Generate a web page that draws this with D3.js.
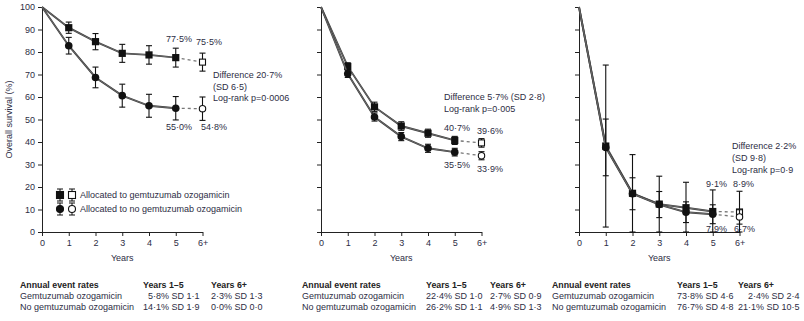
<!DOCTYPE html>
<html>
<head>
<meta charset="utf-8">
<script src="https://cdn.jsdelivr.net/npm/d3@7"></script>
<style>
  body { margin: 0; background: #fff; }
  svg { font-family: "Liberation Sans", Arial, sans-serif; }
  .axis path, .axis line { stroke: #222; stroke-width: 1; }
  .axis text { fill: #2d2d44; font-size: 9px; font-family: "Liberation Sans", Arial, sans-serif; }
</style>
</head>
<body>
<svg id="chart" width="804" height="321"></svg>
<script>
// categories
var years = ["0", "1", "2", "3", "4", "5", "6+"];
var yTicks = [0, 10, 20, 30, 40, 50, 60, 70, 80, 90, 100];

// panel 1
var p1Go = [100, 90.8, 84.6, 79.4, 78.7, 77.5, 75.5];
var p1GoErr = [0, 2.5, 3.6, 4.0, 4.1, 4.2, 4.0];
var p1No = [100, 82.8, 68.7, 60.6, 56.1, 55.0, 54.8];
var p1NoErr = [0, 3.7, 4.6, 5.1, 5.1, 5.2, 5.2];

// panel 2
var p2Go = [100, 73.6, 55.6, 47.1, 43.9, 40.7, 39.6];
var p2GoErr = [0, 1.6, 2.1, 1.9, 1.8, 1.8, 1.9];
var p2No = [100, 70.3, 51.1, 42.4, 37.2, 35.5, 33.9];
var p2NoErr = [0, 1.6, 1.8, 1.8, 1.8, 1.7, 1.8];

// panel 3
var p3Go = [100, 38.2, 17.2, 12.4, 10.8, 9.1, 8.9];
var p3GoErr = [0, 36, 17.2, 12.4, 11.3, 9.6, 9.2];
var p3No = [100, 37.6, 17.0, 12.2, 8.8, 7.9, 6.7];
var p3NoErr = [0, 12.6, 7.1, 5.8, 4.6, 4.2, 3.2];

// annotations
var p1Notes = ["Difference 20·7%", "(SD 6·5)", "Log-rank p=0·0006"];
var p2Notes = ["Difference 5·7% (SD 2·8)", "Log-rank p=0·005"];
var p3Notes = ["Difference 2·2%", "(SD 9·8)", "Log-rank p=0·9"];
var legendLabels = ["Allocated to gemtuzumab ozogamicin", "Allocated to no gemtuzumab ozogamicin"];

// event rate tables
var tableHeader = ["Annual event rates", "Years 1–5", "Years 6+"];
var rowLabels = ["Gemtuzumab ozogamicin", "No gemtuzumab ozogamicin"];
var p1Rates = [["5·8% SD 1·1", "2·3% SD 1·3"], ["14·1% SD 1·9", "0·0% SD 0·0"]];
var p2Rates = [["22·4% SD 1·0", "2·7% SD 0·9"], ["26·2% SD 1·1", "4·9% SD 1·3"]];
var p3Rates = [["73·8% SD 4·6", "2·4% SD 2·4"], ["76·7% SD 4·8", "21·1% SD 10·5"]];

var svg = d3.select("#chart");
var textCol = "#2d2d44";
var plotTop = 7, plotBottom = 232, plotW = 160.5;

var y = d3.scaleLinear().domain([0, 100]).range([plotBottom, plotTop]);

var panels = [
  {x0: 42, go: p1Go, goErr: p1GoErr, no: p1No, noErr: p1NoErr, labels: true,
   notes: p1Notes, noteX: 213, noteY: 78, noteDy: 11.5,
   pct: [[166, 42, "77·5%"], [196, 45, "75·5%"], [166, 130, "55·0%"], [201, 130, "54·8%"]],
   rates: p1Rates, tx: [20, 143, 211]},
  {x0: 321, go: p2Go, goErr: p2GoErr, no: p2No, noErr: p2NoErr, labels: false,
   notes: p2Notes, noteX: 444, noteY: 100, noteDy: 12,
   pct: [[444, 131, "40·7%"], [477, 134, "39·6%"], [444, 168, "35·5%"], [477, 172, "33·9%"]],
   rates: p2Rates, tx: [302, 426, 490]},
  {x0: 579, go: p3Go, goErr: p3GoErr, no: p3No, noErr: p3NoErr, labels: false,
   notes: p3Notes, noteX: 732, noteY: 149, noteDy: 12,
   pct: [[706, 187, "9·1%"], [733, 187, "8·9%"], [706, 232, "7·9%"], [734, 232, "6·7%"]],
   rates: p3Rates, tx: [552, 677, 738]}
];

panels.forEach(function(p) {
  var x = d3.scalePoint().domain(years).range([p.x0, p.x0 + plotW]);
  var g = svg.append("g");

  // axes
  var yAxis = d3.axisLeft(y).tickValues(yTicks).tickSize(4).tickSizeOuter(0);
  if (!p.labels) yAxis.tickFormat("");
  g.append("g").attr("class", "axis").attr("transform", "translate(" + p.x0 + ",0)").call(yAxis);
  g.append("g").attr("class", "axis").attr("transform", "translate(0," + plotBottom + ")")
    .call(d3.axisBottom(x).tickSize(4).tickSizeOuter(0).tickPadding(4));
  g.append("text").attr("x", p.x0 + plotW / 2).attr("y", 261).attr("text-anchor", "middle")
    .attr("fill", textCol).style("font-size", "9px").text("Years");

  var series = [
    {v: p.go, e: p.goErr, shape: "square"},
    {v: p.no, e: p.noErr, shape: "circle"}
  ];

  series.forEach(function(s) {
    var pts = s.v.map(function(d, i) { return {k: years[i], v: d, e: s.e[i], i: i}; });
    var line = d3.line().x(function(d) { return x(d.k); }).y(function(d) { return y(d.v); });
    // outlined grey line, as in the print
    g.append("path").datum(pts.slice(0, 6)).attr("d", line)
      .attr("fill", "none").attr("stroke", "#3a3a3a").attr("stroke-width", 1.9);
    g.append("path").datum(pts.slice(0, 6)).attr("d", line)
      .attr("fill", "none").attr("stroke", "#8a8a8a").attr("stroke-width", 0.6);
    g.append("path").datum(pts.slice(5)).attr("d", line)
      .attr("fill", "none").attr("stroke", "#777").attr("stroke-width", 1.3).attr("stroke-dasharray", "3,3");

    // error bars
    var eb = g.selectAll(null).data(pts.filter(function(d) { return d.e > 0; })).enter().append("g");
    eb.append("line").attr("x1", function(d) { return x(d.k); }).attr("x2", function(d) { return x(d.k); })
      .attr("y1", function(d) { return y(Math.min(100, d.v + d.e)); })
      .attr("y2", function(d) { return y(Math.max(0, d.v - d.e)); })
      .attr("stroke", "#111").attr("stroke-width", 1.1);
    [1, -1].forEach(function(sign) {
      eb.append("line").attr("x1", function(d) { return x(d.k) - 3; }).attr("x2", function(d) { return x(d.k) + 3; })
        .attr("y1", function(d) { return y(Math.max(0, d.v + sign * d.e)); })
        .attr("y2", function(d) { return y(Math.max(0, d.v + sign * d.e)); })
        .attr("stroke", "#111").attr("stroke-width", 1.1);
    });

    // markers
    var mk = pts.filter(function(d) { return d.i > 0; });
    if (s.shape === "square") {
      g.selectAll(null).data(mk).enter().append("rect")
        .attr("x", function(d) { return x(d.k) - (d.i === 6 ? 3 : 3.6); })
        .attr("y", function(d) { return y(d.v) - (d.i === 6 ? 3 : 3.6); })
        .attr("width", function(d) { return d.i === 6 ? 6 : 7.2; })
        .attr("height", function(d) { return d.i === 6 ? 6 : 7.2; })
        .attr("fill", function(d) { return d.i === 6 ? "#fff" : "#111"; })
        .attr("stroke", "#111").attr("stroke-width", function(d) { return d.i === 6 ? 1.1 : 0; });
    } else {
      g.selectAll(null).data(mk).enter().append("circle")
        .attr("cx", function(d) { return x(d.k); }).attr("cy", function(d) { return y(d.v); })
        .attr("r", function(d) { return d.i === 6 ? 3.2 : 3.8; })
        .attr("fill", function(d) { return d.i === 6 ? "#fff" : "#111"; })
        .attr("stroke", "#111").attr("stroke-width", function(d) { return d.i === 6 ? 1.1 : 0; });
    }
  });

  // notes
  p.notes.forEach(function(t, i) {
    g.append("text").attr("x", p.noteX).attr("y", p.noteY + i * p.noteDy)
      .attr("fill", textCol).style("font-size", "9px").text(t);
  });
  p.pct.forEach(function(d) {
    g.append("text").attr("x", d[0]).attr("y", d[1]).attr("fill", textCol)
      .style("font-size", "9px").text(d[2]);
  });

  // table
  var rows = [288, 299, 310];
  tableHeader.forEach(function(t, i) {
    g.append("text").attr("x", p.tx[i]).attr("y", rows[0]).attr("fill", "#222")
      .style("font-size", "8.8px").style("font-weight", "bold").text(t);
  });
  rowLabels.forEach(function(t, r) {
    g.append("text").attr("x", p.tx[0]).attr("y", rows[r + 1]).attr("fill", textCol)
      .style("font-size", "9px").text(t);
  });
  // value columns: right edges aligned, widest value starts at the header
  [0, 1].forEach(function(c) {
    var cells = p.rates.map(function(row, r) {
      return g.append("text").attr("y", rows[r + 1]).attr("fill", textCol)
        .style("font-size", "9px").text(row[c]);
    });
    var widths = cells.map(function(t) { return t.node().getComputedTextLength(); });
    var maxW = d3.max(widths);
    cells.forEach(function(t, r) { t.attr("x", p.tx[c + 1] + maxW - widths[r]); });
  });
});

// y label
svg.append("text").attr("transform", "translate(12," + ((plotTop + plotBottom) / 2) + ") rotate(-90)")
  .attr("text-anchor", "middle").attr("fill", textCol).style("font-size", "9px")
  .text("Overall survival (%)");

// legend
var lx = 60;
var legend = svg.selectAll(".leg").data(legendLabels).enter().append("g")
  .attr("transform", function(d, i) { return "translate(0," + (195 + i * 14) + ")"; });
legend.each(function(d, i) {
  var gg = d3.select(this);
  [lx, lx + 12].forEach(function(cx, j) {
    gg.append("line").attr("x1", cx).attr("x2", cx).attr("y1", -6).attr("y2", 6).attr("stroke", "#111");
    gg.append("line").attr("x1", cx - 3).attr("x2", cx + 3).attr("y1", -6).attr("y2", -6).attr("stroke", "#111");
    gg.append("line").attr("x1", cx - 3).attr("x2", cx + 3).attr("y1", 6).attr("y2", 6).attr("stroke", "#111");
    var fill = j === 0 ? "#111" : "#fff";
    if (i === 0) {
      gg.append("rect").attr("x", cx - 3.5).attr("y", -3.5).attr("width", 7).attr("height", 7)
        .attr("fill", fill).attr("stroke", "#111").attr("stroke-width", 1.1);
    } else {
      gg.append("circle").attr("cx", cx).attr("cy", 0).attr("r", 3.5)
        .attr("fill", fill).attr("stroke", "#111").attr("stroke-width", 1.1);
    }
  });
  gg.append("text").attr("x", 80).attr("y", 3.2).attr("fill", textCol)
    .style("font-size", "9px").text(d);
});
</script>
</body>
</html>
